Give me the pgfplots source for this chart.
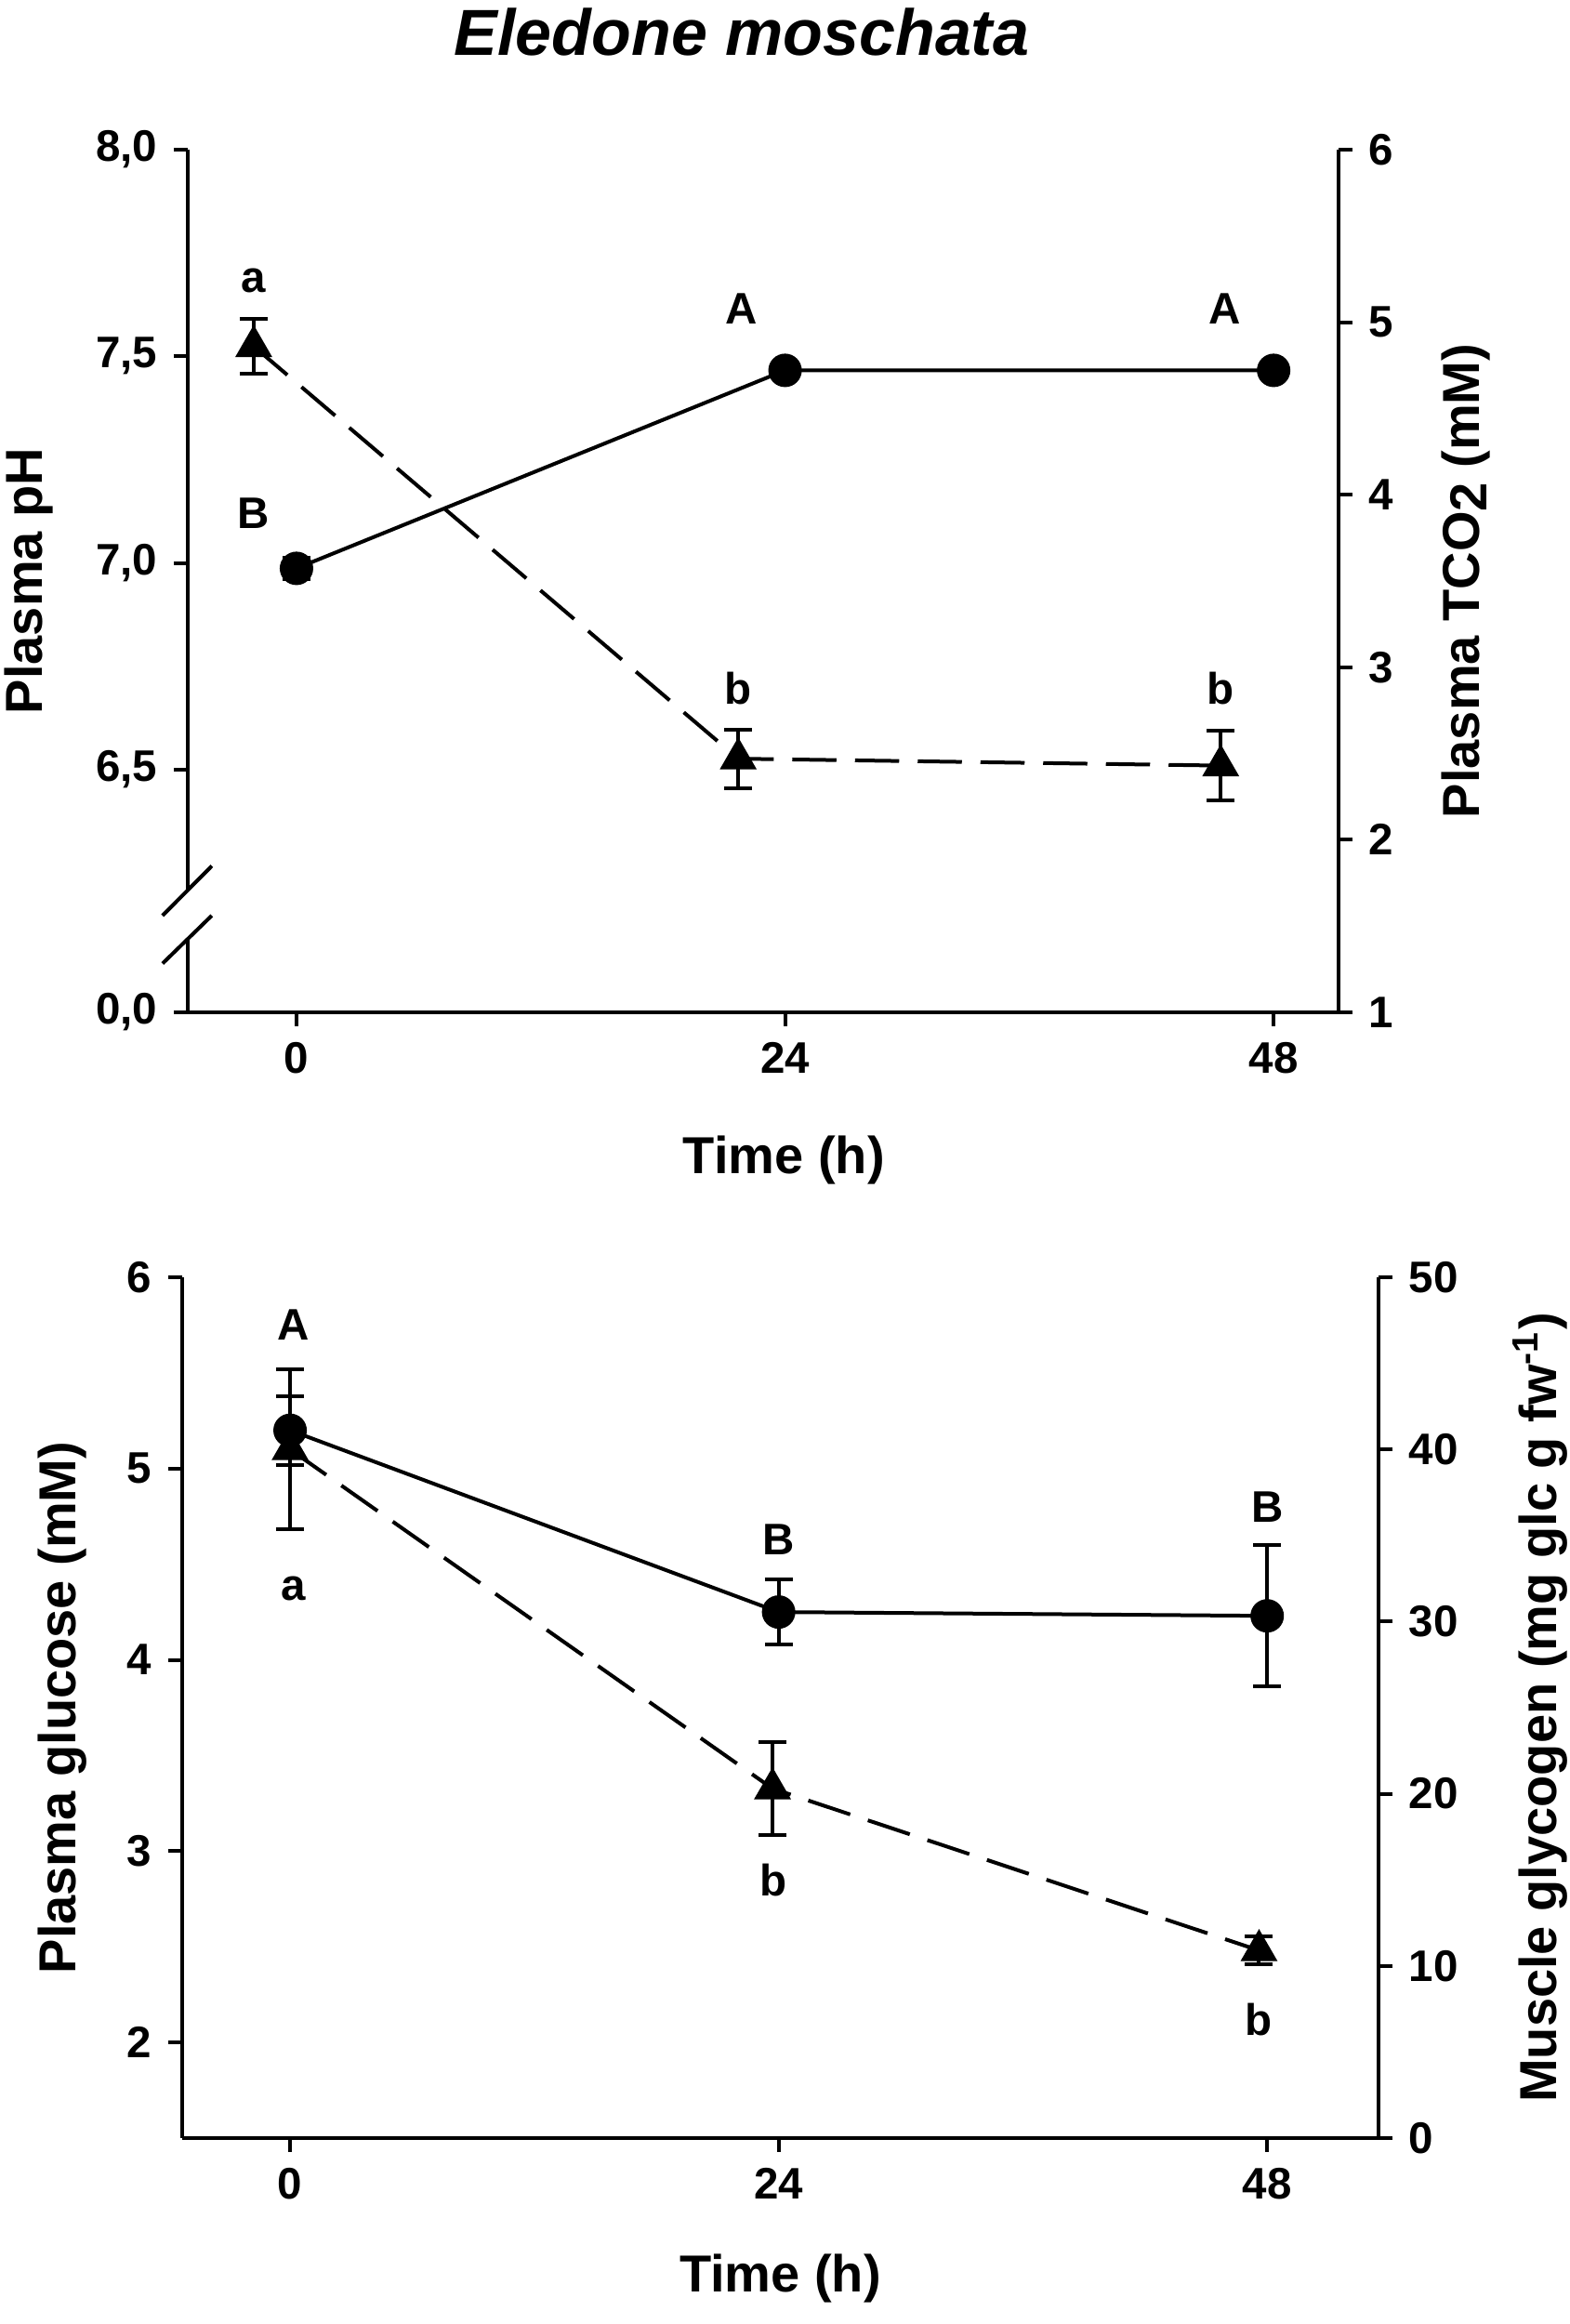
\documentclass[border=0pt]{standalone}
\usepackage{fontspec}
\setmainfont{Liberation Sans}
\usepackage{pgfplots}
\pgfplotsset{compat=1.18}

\pgfplotsset{
  myax/.style={
    scale only axis, clip=false,
    axis line style={line width=0.8pt},
    every tick/.style={line width=0.8pt, black},
    major tick length=3pt,
    tick align=outside,
    ticklabel style={font=\bfseries\fontsize{9.5}{11}\selectfont},
    label style={font=\bfseries\fontsize{11.2}{13}\selectfont},
    /pgf/number format/assume math mode=true,
    xtick={0,24,48},
  },
  circ/.style={black, line width=0.8pt, mark=*, mark size=3.2pt,
    error bars/.cd, y dir=both, y explicit,
    error bar style={line width=0.8pt, solid},
    error mark options={rotate=90, mark size=3pt, line width=0.8pt, solid}},
  tri/.style={black, line width=0.8pt, dash pattern=on 9.5pt off 4pt,
    mark=triangle*, mark size=3.8pt, mark options={solid},
    error bars/.cd, y dir=both, y explicit,
    error bar style={line width=0.8pt, solid},
    error mark options={rotate=90, mark size=3pt, line width=0.8pt, solid}},
}
\tikzset{lett/.style={font=\bfseries\fontsize{9.5}{11}\selectfont}}

\begin{document}
\begin{tikzpicture}
\useasboundingbox (0pt,0pt) rectangle (337.6pt,500pt);
\node[font=\bfseries\itshape\fontsize{14}{16}\selectfont] at (159.6pt,493pt) {Eledone moschata};

% ---------- top panel: pH (left) ----------
\begin{axis}[myax, at={(40.4pt,282.2pt)}, anchor=south west,
  width=247.6pt, height=185.6pt,
  xmin=-5.34, xmax=51.19, ymin=5.913, ymax=8,
  axis x line*=bottom, axis y line*=left,
  ytick={5.913,6.5,7,7.5,8}, yticklabels={{0,0},{6,5},{7,0},{7,5},{8,0}},
  xlabel={Time (h)}, ylabel={Plasma pH},
  xlabel style={at={(axis description cs:0.518,-0.171)}, anchor=center},
  ylabel style={at={(axis description cs:-0.138,0.5)}, anchor=center},
]
\addplot[circ] coordinates {(0,6.987) +- (0,0.025) (24,7.466) +- (0,0.01) (48,7.466) +- (0,0.01)};
\draw[white, line width=3pt] (axis cs:-5.34,6.091) -- (axis cs:-5.34,6.210);
\draw[line width=0.8pt] (axis cs:-6.58,6.147) -- (axis cs:-4.16,6.267);
\draw[line width=0.8pt] (axis cs:-6.58,6.031) -- (axis cs:-4.16,6.147);
\end{axis}

% ---------- top panel: TCO2 (right) ----------
\begin{axis}[myax, at={(40.4pt,282.2pt)}, anchor=south west,
  width=247.6pt, height=185.6pt,
  xmin=-5.34, xmax=51.19, ymin=1, ymax=6,
  axis x line=none, axis y line*=right,
  ytick={1,2,3,4,5,6},
  ylabel={Plasma TCO\raisebox{-1.6pt}{2} (mM)},
  ylabel style={at={(axis description cs:1.111,0.5)}, anchor=center},
]
\addplot[tri] coordinates {(-2.1,4.86) +- (0,0.16) (21.7,2.47) +- (0,0.17) (45.4,2.43) +- (0,0.2)};
\node[lett] at (axis cs:-2.12,5.24) {a};
\node[lett] at (axis cs:-2.12,3.89) {B};
\node[lett] at (axis cs:21.86,5.08) {A};
\node[lett] at (axis cs:45.6,5.08) {A};
\node[lett] at (axis cs:21.7,2.88) {b};
\node[lett] at (axis cs:45.4,2.88) {b};
\end{axis}

% ---------- bottom panel: glucose (left) ----------
\begin{axis}[myax, at={(39.2pt,40pt)}, anchor=south west,
  width=257.4pt, height=185.2pt,
  xmin=-5.3, xmax=53.47, ymin=1.5, ymax=6,
  axis x line*=bottom, axis y line*=left,
  ytick={2,3,4,5,6},
  xlabel={Time (h)}, ylabel={Plasma glucose (mM)},
  xlabel style={at={(axis description cs:0.5,-0.163)}, anchor=center},
  ylabel style={at={(axis description cs:-0.100,0.5)}, anchor=center},
]
\addplot[circ] coordinates {(0,5.20) +- (0,0.18) (24,4.25) +- (0,0.17) (48,4.23) +- (0,0.37)};
\node[lett] at (axis cs:0.15,5.75) {A};
\node[lett] at (axis cs:0.15,4.37) {a};
\node[lett] at (axis cs:24,4.63) {B};
\node[lett] at (axis cs:48,4.80) {B};
\node[lett] at (axis cs:23.76,2.85) {b};
\node[lett] at (axis cs:47.6,2.12) {b};
\end{axis}

% ---------- bottom panel: glycogen (right) ----------
\begin{axis}[myax, at={(39.2pt,40pt)}, anchor=south west,
  width=257.4pt, height=185.2pt,
  xmin=-5.3, xmax=53.47, ymin=0, ymax=50,
  axis x line=none, axis y line*=right,
  ytick={0,10,20,30,40,50},
  ylabel={Muscle glycogen (mg glc g fw\textsuperscript{-1})},
  ylabel style={at={(axis description cs:1.135,0.5)}, anchor=center},
]
\addplot[tri] coordinates {(0,40.0) +- (0,4.65) (23.7,20.3) +- (0,2.7) (47.6,10.9) +- (0,0.8)};
\end{axis}
\end{tikzpicture}
\end{document}
